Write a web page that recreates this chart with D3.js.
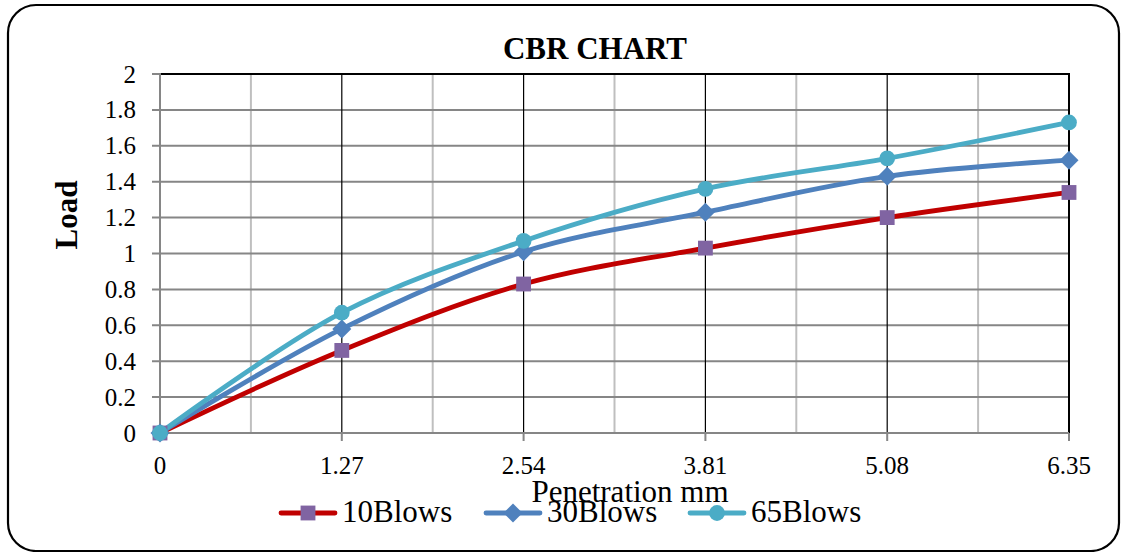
<!DOCTYPE html>
<html>
<head>
<meta charset="utf-8">
<script src="https://cdn.jsdelivr.net/npm/d3@7"></script>
<style>
  html, body { margin: 0; padding: 0; background: #fff; }
  svg { display: block; font-family: "Liberation Serif", "Times New Roman", serif; }
</style>
</head>
<body>
<svg id="chart" width="1121" height="552"></svg>
<script>
// Penetration (mm) and load readings for each compaction effort
const penetration = [0, 1.27, 2.54, 3.81, 5.08, 6.35];
const blows10 = [0, 0.46, 0.83, 1.03, 1.20, 1.34];
const blows30 = [0, 0.58, 1.01, 1.23, 1.43, 1.52];
const blows65 = [0, 0.67, 1.07, 1.36, 1.53, 1.73];
const seriesNames = ["10Blows", "30Blows", "65Blows"];
const yTicks = [0, 0.2, 0.4, 0.6, 0.8, 1, 1.2, 1.4, 1.6, 1.8, 2];
const xTicks = [0, 1.27, 2.54, 3.81, 5.08, 6.35];
const xMinorTicks = [0.635, 1.905, 3.175, 4.445, 5.715];

// Square-based diamond (a square turned 45 degrees)
const symbolRhombus = {
  draw(context, size) {
    const r = Math.sqrt(size / 2);
    context.moveTo(0, -r);
    context.lineTo(r, 0);
    context.lineTo(0, r);
    context.lineTo(-r, 0);
    context.closePath();
  }
};

const series = [
  { name: seriesNames[0], values: blows10, line: "#C00000", fill: "#8064A2", symbol: d3.symbolSquare, size: 220 },
  { name: seriesNames[1], values: blows30, line: "#4F81BD", fill: "#4F81BD", symbol: symbolRhombus, size: 180 },
  { name: seriesNames[2], values: blows65, line: "#4BACC6", fill: "#4BACC6", symbol: d3.symbolCircle, size: 195 }
];

const svg = d3.select("#chart");
const plotLeft = 160, plotRight = 1069, plotTop = 74, plotBottom = 433;

const x = d3.scaleLinear().domain([0, 6.35]).range([plotLeft, plotRight]);
const y = d3.scaleLinear().domain([0, 2]).range([plotBottom, plotTop]);

// Outer chart frame with rounded corners
svg.append("rect")
  .attr("x", 8).attr("y", 5)
  .attr("width", 1111).attr("height", 546)
  .attr("rx", 28).attr("ry", 28)
  .attr("fill", "#fff").attr("stroke", "#000").attr("stroke-width", 2.2);

const grid = svg.append("g");

// Minor vertical gridlines
grid.selectAll(".minor").data(xMinorTicks).join("line")
  .attr("x1", d => x(d)).attr("x2", d => x(d))
  .attr("y1", plotTop).attr("y2", plotBottom)
  .attr("stroke", "#BFBFBF").attr("stroke-width", 2);

// Horizontal gridlines with left tick marks
grid.selectAll(".hgrid").data(yTicks).join("line")
  .attr("x1", plotLeft - 8).attr("x2", plotRight)
  .attr("y1", d => y(d)).attr("y2", d => y(d))
  .attr("stroke", "#868686").attr("stroke-width", 2);

// Major vertical gridlines
grid.selectAll(".major").data(xTicks.slice(1, -1)).join("line")
  .attr("x1", d => x(d)).attr("x2", d => x(d))
  .attr("y1", plotTop).attr("y2", plotBottom)
  .attr("stroke", "#000").attr("stroke-width", 1.2);

// Plot border: top and right in black
svg.append("line").attr("x1", plotLeft).attr("x2", plotRight + 1).attr("y1", plotTop).attr("y2", plotTop)
  .attr("stroke", "#000").attr("stroke-width", 2);
svg.append("line").attr("x1", plotRight).attr("x2", plotRight).attr("y1", plotTop).attr("y2", plotBottom)
  .attr("stroke", "#000").attr("stroke-width", 2);

// Value axis line
svg.append("line").attr("x1", plotLeft).attr("x2", plotLeft).attr("y1", plotTop - 1).attr("y2", plotBottom + 1)
  .attr("stroke", "#868686").attr("stroke-width", 2);

// Category axis line and ticks
svg.append("line").attr("x1", plotLeft).attr("x2", plotRight).attr("y1", plotBottom).attr("y2", plotBottom)
  .attr("stroke", "#868686").attr("stroke-width", 2);
svg.selectAll(".xtick").data(xTicks).join("line")
  .attr("x1", d => x(d)).attr("x2", d => x(d))
  .attr("y1", plotBottom).attr("y2", plotBottom + 8)
  .attr("stroke", "#868686").attr("stroke-width", 2);

// Tick labels
svg.selectAll(".ylab").data(yTicks).join("text")
  .attr("x", 136).attr("y", d => y(d)).attr("dy", "0.34em")
  .attr("text-anchor", "end").attr("font-size", 25).attr("fill", "#000")
  .text(d => d3.format("~g")(d));

svg.selectAll(".xlab").data(xTicks).join("text")
  .attr("x", d => x(d)).attr("y", 474)
  .attr("text-anchor", "middle").attr("font-size", 25).attr("fill", "#000")
  .text(d => String(d));

// Titles
svg.append("text").attr("x", 595).attr("y", 59)
  .attr("text-anchor", "middle").attr("font-size", 31).attr("font-weight", "bold")
  .text("CBR CHART");

svg.append("text").attr("transform", "translate(77,215) rotate(-90)")
  .attr("text-anchor", "middle").attr("font-size", 31).attr("font-weight", "bold")
  .text("Load");

svg.append("text").attr("x", 630).attr("y", 502)
  .attr("text-anchor", "middle").attr("font-size", 31)
  .text("Penetration mm");

// Smoothed series lines and markers
const lineGen = d3.line()
  .x((d, i) => x(penetration[i]))
  .y(d => y(d))
  .curve(d3.curveCatmullRom.alpha(0.5));

const plot = svg.append("g");
series.forEach(s => {
  plot.append("path")
    .attr("d", lineGen(s.values))
    .attr("fill", "none").attr("stroke", s.line)
    .attr("stroke-width", 4.8).attr("stroke-linejoin", "round").attr("stroke-linecap", "round");
});
series.forEach(s => {
  plot.selectAll(null).data(s.values).join("path")
    .attr("transform", (d, i) => `translate(${x(penetration[i])},${y(d)})`)
    .attr("d", d3.symbol().type(s.symbol).size(s.size))
    .attr("fill", s.fill);
});

// Legend
const legendX = [281, 486, 690];
const legendY = 513;
series.forEach((s, i) => {
  const g = svg.append("g").attr("transform", `translate(${legendX[i]},${legendY})`);
  g.append("line").attr("x1", 0).attr("x2", 54).attr("y1", 0).attr("y2", 0)
    .attr("stroke", s.line).attr("stroke-width", 4.8).attr("stroke-linecap", "round");
  g.append("path").attr("transform", "translate(27,0)")
    .attr("d", d3.symbol().type(s.symbol).size(s.size)).attr("fill", s.fill);
  g.append("text").attr("x", 61).attr("y", 9).attr("font-size", 31).text(s.name);
});
</script>
</body>
</html>
